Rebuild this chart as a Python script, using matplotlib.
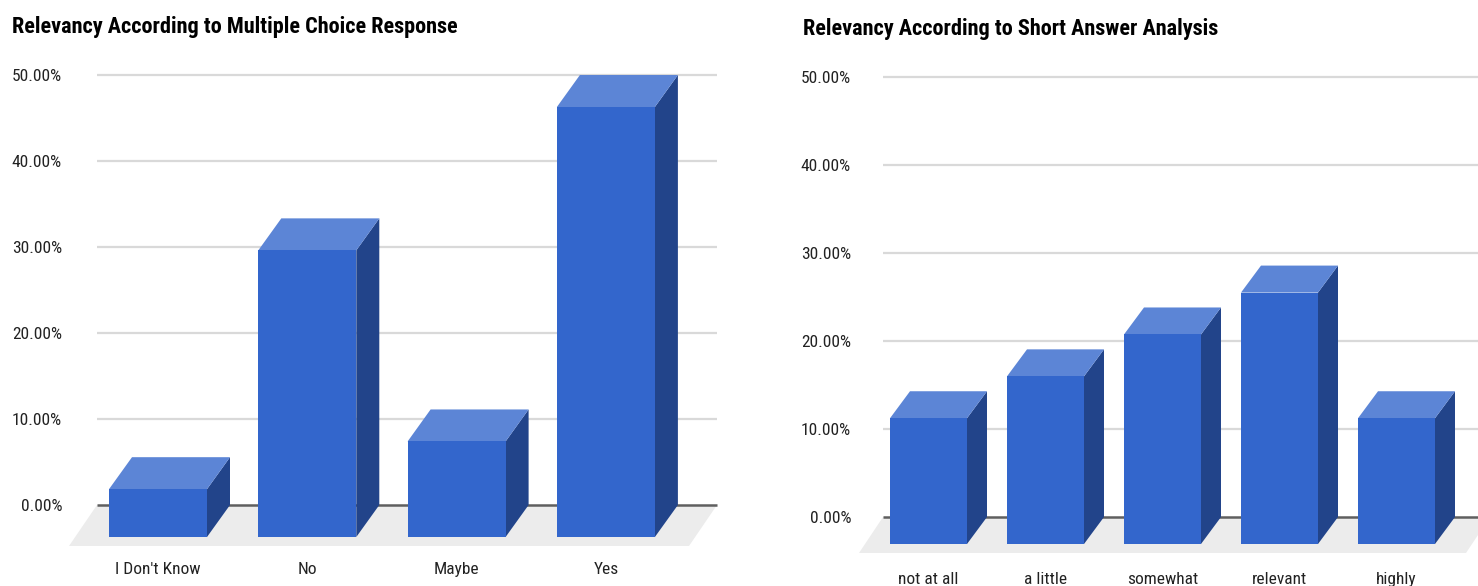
import matplotlib
matplotlib.use("Agg")
import matplotlib.pyplot as plt
from matplotlib.patches import Polygon

# ---------------- data ----------------
left_title = "Relevancy According to Multiple Choice Response"
left_categories = ["I Don't Know", "No", "Maybe", "Yes"]
left_values = [5.56, 33.33, 11.11, 50.00]

right_title = "Relevancy According to Short Answer Analysis"
right_categories = ["not at all", "a little", "somewhat", "relevant", "highly"]
right_values = [14.29, 19.05, 23.81, 28.57, 14.29]

y_ticks = [0, 10, 20, 30, 40, 50]
y_tick_labels = ["0.00%", "10.00%", "20.00%", "30.00%", "40.00%", "50.00%"]

# ---------------- style ----------------
FONT = ["Roboto Condensed", "Liberation Sans Narrow", "DejaVu Sans Condensed", "Roboto", "DejaVu Sans"]
plt.rcParams["font.family"] = FONT
plt.rcParams["font.stretch"] = "condensed"

FRONT = "#3366cc"
TOP = "#5c85d6"
SIDE = "#22448a"
FLOOR = "#ececec"
GRID = "#d9d9d9"
ZERO = "#5f5f5f"
TEXT = "#222222"

FIG_W, FIG_H = 1478, 586
fig = plt.figure(figsize=(FIG_W / 100, FIG_H / 100), dpi=100)
fig.patch.set_facecolor("white")


def draw_chart(cats, vals, title, title_xy, box, x0_px, pitch_px, zero_px, pct_px,
               bar_w_px, depth_px, grid_px, floor_px, ytick_pad_px, xtick_pad_px):
    left, right, top, bottom = box
    ax = fig.add_axes([left / FIG_W, 1 - bottom / FIG_H,
                       (right - left) / FIG_W, (bottom - top) / FIG_H])
    ax.set_xlim((left - x0_px) / pitch_px, (right - x0_px) / pitch_px)
    ax.set_ylim((zero_px - bottom) / pct_px, (zero_px - top) / pct_px)
    for s in ax.spines.values():
        s.set_visible(False)
    ax.set_facecolor("none")

    px2x = lambda p: (p - x0_px) / pitch_px     # absolute pixel -> x data
    dxp = lambda p: p / pitch_px                # pixel length -> x data
    dyp = lambda p: p / pct_px                  # pixel length -> y data

    # floor (parallelogram in front of the back plane)
    g0, g1 = grid_px
    f_dx, f_dy = floor_px
    floor = Polygon([(px2x(g0), 0), (px2x(g1), 0),
                     (px2x(g1) - dxp(f_dx), -dyp(f_dy)),
                     (px2x(g0) - dxp(f_dx), -dyp(f_dy))],
                    closed=True, facecolor=FLOOR, edgecolor="none", zorder=1, clip_on=False)
    ax.add_patch(floor)

    # gridlines on back plane
    ax.hlines([t for t in y_ticks if t != 0], px2x(g0), px2x(g1), colors=GRID,
              linewidth=1.6, zorder=2, clip_on=False)
    ax.hlines([0], px2x(g0), px2x(g1), colors=ZERO, linewidth=1.8, zorder=3, clip_on=False)

    # 3D bars
    w = dxp(bar_w_px)
    ddx, ddy = dxp(depth_px[0]), dyp(depth_px[1])
    for i, v in enumerate(vals):
        xl, xr = i - w / 2, i + w / 2
        yb, yt = -ddy, v - ddy
        front = Polygon([(xl, yb), (xr, yb), (xr, yt), (xl, yt)], closed=True,
                        facecolor=FRONT, edgecolor="none", zorder=5)
        topf = Polygon([(xl, yt), (xr, yt), (xr + ddx, v), (xl + ddx, v)], closed=True,
                       facecolor=TOP, edgecolor="none", zorder=5)
        side = Polygon([(xr, yb), (xr + ddx, 0), (xr + ddx, v), (xr, yt)], closed=True,
                       facecolor=SIDE, edgecolor="none", zorder=5)
        for p in (side, topf, front):
            p.set_clip_on(False)
            ax.add_patch(p)

    ax.set_yticks(y_ticks, y_tick_labels)
    ax.set_xticks(range(len(cats)), cats)
    ax.tick_params(axis="y", length=0, pad=ytick_pad_px * 0.72, labelsize=12.5, labelcolor=TEXT)
    ax.tick_params(axis="x", length=0, pad=xtick_pad_px * 0.72, labelsize=12.5, labelcolor=TEXT)

    fig.text(title_xy[0] / FIG_W, 1 - title_xy[1] / FIG_H, title, ha="left", va="center",
             fontsize=16, fontweight="bold", color="#000000")
    return ax


draw_chart(left_categories, left_values, left_title, (12, 27),
           box=(66, 740, 40, 556), x0_px=158, pitch_px=149.3, zero_px=505, pct_px=8.6,
           bar_w_px=98, depth_px=(23, 32), grid_px=(97, 717), floor_px=(28, 41),
           ytick_pad_px=4, xtick_pad_px=6)

draw_chart(right_categories, right_values, right_title, (803, 29),
           box=(855, 1478, 40, 565), x0_px=928.5, pitch_px=117, zero_px=517, pct_px=8.8,
           bar_w_px=77, depth_px=(20, 27), grid_px=(883, 1490), floor_px=(24, 36),
           ytick_pad_px=4, xtick_pad_px=7)

fig.savefig("out.png", dpi=100, facecolor="white")
